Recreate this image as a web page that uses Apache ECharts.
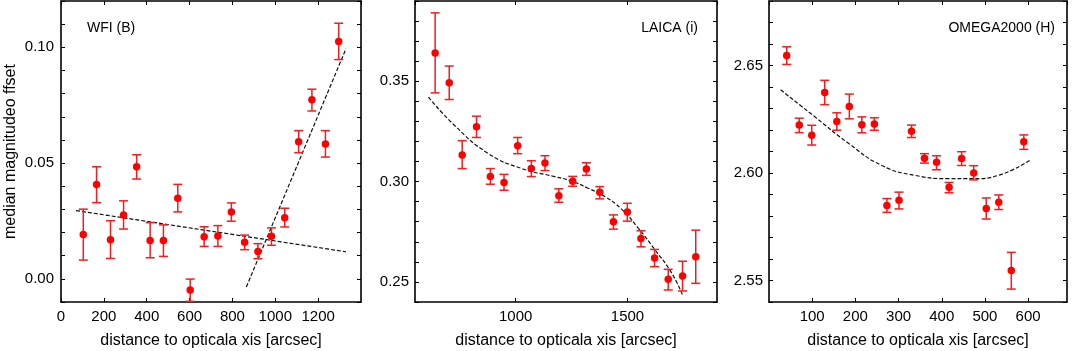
<!DOCTYPE html>
<html>
<head>
<meta charset="utf-8">
<script src="https://cdn.jsdelivr.net/npm/echarts@6/dist/echarts.min.js"></script>
<style>
html,body{margin:0;padding:0;background:#fff;}
#chart{width:1072px;height:351px;}
</style>
</head>
<body>
<div id="chart"></div>
<script>
// ---- Panel 1: WFI (B) ----
const wfiX  = [104,166,231,292,353,416,478,545,603,668,732,795,857,919,982,1044,1109,1171,1234,1296];
const wfiY  = [0.0191,0.0408,0.0169,0.0276,0.0484,0.0166,0.0166,0.0348,-0.0048,0.0182,0.0185,0.0289,0.0158,0.0118,0.0184,0.0264,0.0592,0.0773,0.0582,0.1025];
const wfiHi = [0.0301,0.0484,0.0251,0.0337,0.0536,0.0243,0.0233,0.0408,-0.0001,0.0225,0.0230,0.0328,0.0189,0.0152,0.0220,0.0305,0.0640,0.0819,0.0640,0.1104];
const wfiLo = [0.0081,0.0329,0.0088,0.0215,0.0431,0.0091,0.0097,0.0289,-0.0097,0.0140,0.0140,0.0249,0.0126,0.0087,0.0145,0.0224,0.0545,0.0725,0.0526,0.0947];
const wfiFitAX = [70,1330];
const wfiFitAY = [0.0295,0.0117];
const wfiFitBX = [865,1330];
const wfiFitBY = [-0.0035,0.0994];

// ---- Panel 2: LAICA (i) ----
const laicaX  = [640,703,761,825,887,948,1009,1070,1131,1193,1255,1316,1376,1437,1499,1560,1621,1682,1746,1805];
const laicaY  = [0.3641,0.3492,0.3132,0.3273,0.3025,0.2995,0.3179,0.3065,0.3093,0.2930,0.3002,0.3063,0.2947,0.2800,0.2848,0.2717,0.2619,0.2513,0.2530,0.2626];
const laicaHi = [0.3841,0.3576,0.3204,0.3326,0.3065,0.3036,0.3220,0.3104,0.3129,0.2964,0.3026,0.3094,0.2975,0.2834,0.2892,0.2755,0.2662,0.2563,0.2603,0.2758];
const laicaLo = [0.3442,0.3409,0.3065,0.3220,0.2987,0.2957,0.3139,0.3025,0.3055,0.2897,0.2977,0.3031,0.2914,0.2763,0.2803,0.2675,0.2576,0.2460,0.2455,0.2493];
const laicaFitX = [610,726,876,1025,1174,1249,1324,1399,1473,1548,1622,1697,1745];
const laicaFitY = [0.3421,0.3281,0.3141,0.3066,0.3025,0.3003,0.2967,0.2925,0.2863,0.2768,0.2661,0.2545,0.2437];

// ---- Panel 3: OMEGA2000 (H) ----
const omegaX  = [41,70,99,129,157,186,215,244,273,301,330,360,388,417,446,474,503,532,561,590];
const omegaY  = [2.6546,2.6223,2.6176,2.6375,2.6239,2.6309,2.6225,2.6228,2.5849,2.5873,2.6194,2.6069,2.6050,2.5934,2.6067,2.6000,2.5835,2.5864,2.5547,2.6145];
const omegaHi = [2.6587,2.6255,2.6222,2.6431,2.6280,2.6367,2.6261,2.6257,2.5881,2.5911,2.6223,2.6090,2.6080,2.5956,2.6099,2.6034,2.5884,2.5898,2.5631,2.6177];
const omegaLo = [2.6505,2.6188,2.6130,2.6318,2.6199,2.6252,2.6187,2.6199,2.5817,2.5833,2.6165,2.6046,2.6015,2.5908,2.6035,2.5968,2.5786,2.5830,2.5460,2.6110];
const omegaFitX = [27,107,184,261,338,415,477,531,605];
const omegaFitY = [2.6387,2.6260,2.6138,2.6035,2.5989,2.5974,2.5974,2.5989,2.6061];

const panelTitles = ['WFI (B)','LAICA (i)','OMEGA2000 (H)'];
const xName = 'distance to opticala xis [arcsec]';
const yName = 'median magnitudeo ffset';

const FONT = "'Liberation Sans', Arial, Helvetica, sans-serif";
const RED = '#ff0000';
const ERR = '#f41c1c';

const grids = [
  {left: 61, top: 1, width: 300, height: 301, outerBoundsMode:'none', containLabel:false},
  {left: 415, top: 1, width: 302, height: 301, outerBoundsMode:'none', containLabel:false},
  {left: 769, top: 1, width: 298, height: 301, outerBoundsMode:'none', containLabel:false}
];

function multipleOf(v, step){ const k = v/step; return Math.abs(k-Math.round(k)) < 1e-6; }

const axisLineStyle = {show:true, onZero:false, lineStyle:{color:'#000', width:1.6}};
const tickStyle = {show:true, inside:true, length:4, lineStyle:{color:'#000', width:1}};

function xAxes(gi, min, max, opts){
  const base = {
    type:'value', gridIndex:gi, min:min, max:max,
    splitLine:{show:false}, axisLine:axisLineStyle, axisTick:tickStyle
  };
  Object.assign(base, opts.scale);
  const bottom = Object.assign({}, base, {
    position:'bottom',
    name:xName, nameLocation:'middle', nameGap:31,
    nameTextStyle:{fontFamily:FONT, fontSize:16, color:'#000'},
    axisLabel:{show:true, margin:7, fontFamily:FONT, fontSize:15, color:'#000',
      showMinLabel:opts.showMin, showMaxLabel:false,
      formatter: v => (multipleOf(v, opts.labelStep) && v < max && (opts.showMin || v > min)) ? String(Math.round(v)) : ''}
  });
  const top = Object.assign({}, base, {position:'top', axisLabel:{show:false}});
  return [bottom, top];
}

function yAxes(gi, min, max, withName, margin){
  const base = {
    type:'value', gridIndex:gi, min:min, max:max, interval:0.01,
    splitLine:{show:false}, axisLine:axisLineStyle, axisTick:tickStyle
  };
  const left = Object.assign({}, base, {
    position:'left',
    axisLabel:{show:true, margin:margin, fontFamily:FONT, fontSize:15, color:'#000',
      formatter: v => multipleOf(v, 0.05) ? v.toFixed(2) : ''}
  });
  if (withName){
    left.name = yName; left.nameLocation = 'middle'; left.nameGap = 42;
    left.nameTextStyle = {fontFamily:FONT, fontSize:16, color:'#000'};
  }
  const right = Object.assign({}, base, {position:'right', axisLabel:{show:false}});
  return [left, right];
}

const xAxis = [].concat(
  xAxes(0, 0, 1400, {scale:{interval:200}, labelStep:200, showMin:true}),
  xAxes(1, 550, 1900, {scale:{splitNumber:3}, labelStep:500, showMin:false}),
  xAxes(2, 0, 690, {scale:{interval:100}, labelStep:100, showMin:false})
);
const yAxis = [].concat(
  yAxes(0, -0.01, 0.12, true, 7),
  yAxes(1, 0.24, 0.39, false, 6),
  yAxes(2, 2.54, 2.68, false, 6)
);

function errSeries(axisIdx, xs, lo, hi){
  return {
    type:'custom', xAxisIndex:axisIdx, yAxisIndex:axisIdx, z:3,
    data: xs.map((x,i)=>[x, lo[i], hi[i]]),
    encode:{x:0, y:[1,2]},
    renderItem: function(params, api){
      const x = api.value(0), l = api.value(1), h = api.value(2);
      const pH = api.coord([x, h]), pL = api.coord([x, l]);
      const w = 4.5;
      const st = {stroke:ERR, lineWidth:1.5};
      return {type:'group', children:[
        {type:'line', shape:{x1:pH[0], y1:pH[1], x2:pL[0], y2:pL[1]}, style:st},
        {type:'line', shape:{x1:pH[0]-w, y1:pH[1], x2:pH[0]+w, y2:pH[1]}, style:st},
        {type:'line', shape:{x1:pL[0]-w, y1:pL[1], x2:pL[0]+w, y2:pL[1]}, style:st}
      ]};
    },
    clip:true, silent:true
  };
}
function pointSeries(axisIdx, xs, ys){
  return {
    type:'scatter', xAxisIndex:axisIdx, yAxisIndex:axisIdx, z:4,
    symbol:'circle', symbolSize:7.5, itemStyle:{color:RED, opacity:1},
    data: xs.map((x,i)=>[x, ys[i]]), silent:true
  };
}
function fitSeries(axisIdx, xs, ys, smooth){
  return {
    type:'line', xAxisIndex:axisIdx, yAxisIndex:axisIdx, z:2,
    showSymbol:false, symbol:'none', smooth:smooth,
    lineStyle:{color:'#111', width:1.2, type:[4,2]},
    data: xs.map((x,i)=>[x, ys[i]]), silent:true
  };
}

const series = [
  fitSeries(0, wfiFitAX, wfiFitAY, false),
  fitSeries(0, wfiFitBX, wfiFitBY, false),
  errSeries(0, wfiX, wfiLo, wfiHi),
  pointSeries(0, wfiX, wfiY),
  fitSeries(2, laicaFitX, laicaFitY, true),
  errSeries(2, laicaX, laicaLo, laicaHi),
  pointSeries(2, laicaX, laicaY),
  fitSeries(4, omegaFitX, omegaFitY, true),
  errSeries(4, omegaX, omegaLo, omegaHi),
  pointSeries(4, omegaX, omegaY)
];

const graphic = [
  {type:'text', left:87, top:21, style:{text:panelTitles[0], font:'14px ' + FONT, fill:'#000'}},
  {type:'text', right:1072-698, top:21, style:{text:panelTitles[1], font:'14px ' + FONT, fill:'#000'}},
  {type:'text', right:1072-1055, top:21, style:{text:panelTitles[2], font:'14px ' + FONT, fill:'#000'}}
];

const chart = echarts.init(document.getElementById('chart'), null, {renderer:'canvas'});
chart.setOption({
  animation:false,
  backgroundColor:'#fff',
  grid: grids,
  xAxis: xAxis,
  yAxis: yAxis,
  series: series,
  graphic: graphic
});
</script>
</body>
</html>
